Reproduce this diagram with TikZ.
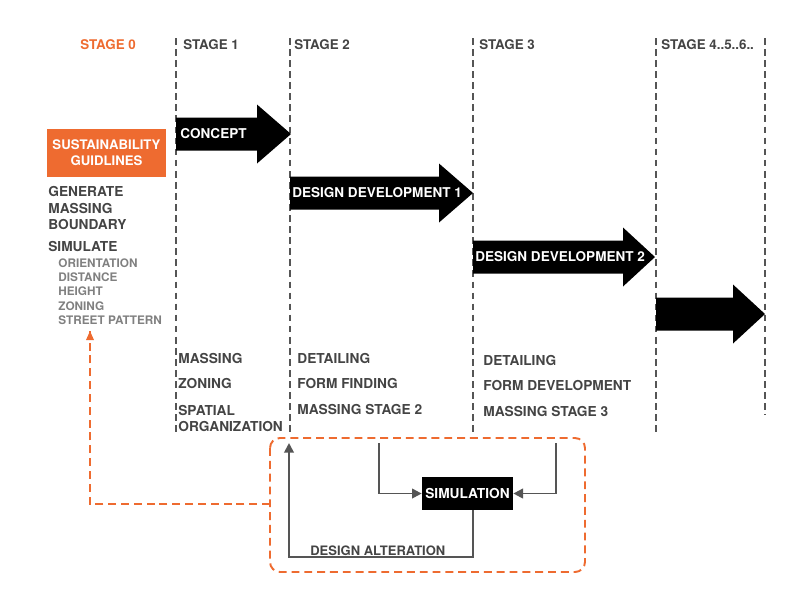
\documentclass[tikz,border=0pt]{standalone}
\usepackage{fontspec}
\setmainfont{TeX Gyre Heros}
\definecolor{stgrey}{HTML}{444444}
\definecolor{stlight}{HTML}{808080}
\definecolor{storange}{HTML}{EE6B30}
\definecolor{stline}{HTML}{555555}
\usetikzlibrary{arrows.meta,positioning}

\begin{document}
\begin{tikzpicture}[x=0.02cm,y=-0.02cm,
  stagelabel/.style={anchor=west,font=\bfseries\fontsize{7.6}{9}\selectfont,text=stgrey,inner sep=0pt},
  listitem/.style={anchor=west,font=\bfseries\fontsize{7.8}{9}\selectfont,text=stgrey,inner sep=0pt},
  subitem/.style={anchor=west,font=\bfseries\fontsize{6.7}{8}\selectfont,text=stlight,inner sep=0pt},
  arrowlabel/.style={anchor=west,font=\bfseries\fontsize{7.7}{9}\selectfont,text=white,inner sep=0pt},
  stageline/.style={stline,line width=1.25pt,dash pattern=on 3.8pt off 2.5pt},
  loopline/.style={stline,line width=1.1pt,-{Triangle[length=5.5pt,width=5.5pt]}},
  feedback/.style={storange,line width=1.1pt,dash pattern=on 4.5pt off 2.8pt}
]
  \useasboundingbox (0,0) rectangle (800,600);

  % stage columns
  \foreach \xl/\yb in {176/433,290/433,473/435,656/435,765/415}
    \draw[stageline] (\xl,38) -- (\xl,\yb);

  \node[stagelabel,text=storange] (stage0) at (80,45) {STAGE 0};
  \node[stagelabel] (stage1) at (183,45) {STAGE 1};
  \node[stagelabel] (stage2) at (294,45) {STAGE 2};
  \node[stagelabel] (stage3) at (479,45) {STAGE 3};
  \node[stagelabel] (stage4) at (661,45) {STAGE 4..5..6..};

  % block arrows
  \foreach \xs/\xh/\xt/\yc in {176/257/291/134,290/439/473/193,473/623/655/257,656/733/765/314}
    \fill[black] (\xs,{\yc-16.5}) -- (\xh,{\yc-16.5}) -- (\xh,{\yc-29.5}) -- (\xt,\yc)
      -- (\xh,{\yc+29.5}) -- (\xh,{\yc+16.5}) -- (\xs,{\yc+16.5}) -- cycle;

  \node[arrowlabel] (concept) at (180,134) {CONCEPT};
  \node[arrowlabel] (dd1) at (292,193) {DESIGN DEVELOPMENT 1};
  \node[arrowlabel] (dd2) at (475,257) {DESIGN DEVELOPMENT 2};

  % stage 0
  \node[fill=storange,text=white,minimum width=2.38cm,minimum height=0.96cm,align=center,
    font=\bfseries\fontsize{7.5}{9}\selectfont,inner sep=0pt] (guide) at (106.5,153) {SUSTAINABILITY\\GUIDLINES};
  \node[listitem] (generate) at (48,191) {GENERATE};
  \node[listitem] (massing0) at (48,208) {MASSING};
  \node[listitem] (boundary) at (48,224.5) {BOUNDARY};
  \node[listitem] (simulate) at (48,246.5) {SIMULATE};
  \node[subitem] (orient) at (58,263) {ORIENTATION};
  \node[subitem] (dist) at (58,277.5) {DISTANCE};
  \node[subitem] (height) at (58,291.5) {HEIGHT};
  \node[subitem] (zoning0) at (58,306) {ZONING};
  \node[subitem] (street) at (58,320) {STREET PATTERN};

  % stage lists
  \node[listitem] (massing1) at (178,358) {MASSING};
  \node[listitem] (zoning1) at (178,383.5) {ZONING};
  \node[listitem] (spatial) at (178,410) {SPATIAL};
  \node[listitem] (organ) at (178,426.5) {ORGANIZATION};
  \node[listitem] (detail2) at (297,358) {DETAILING};
  \node[listitem] (form2) at (297,383.5) {FORM FINDING};
  \node[listitem] (mass2) at (297,409.5) {MASSING STAGE 2};
  \node[listitem] (detail3) at (483,360) {DETAILING};
  \node[listitem] (form3) at (483,385.5) {FORM DEVELOPMENT};
  \node[listitem] (mass3) at (483,411) {MASSING STAGE 3};

  % simulation loop
  \draw[feedback,rounded corners=5.7pt] (270,438) rectangle (585,572);
  \node[fill=black,text=white,minimum width=1.82cm,minimum height=0.66cm,inner sep=0pt,
    font=\bfseries\fontsize{7.8}{9}\selectfont] (sim) at (467.5,493.5) {SIMULATION};
  \coordinate (fromdd1) at (379,443);
  \coordinate (fromdd2) at (556,443);
  \coordinate (altcorner) at (473,557);
  \coordinate (altend) at (289,443);
  \draw[loopline] (fromdd1) |- (sim.west);
  \draw[loopline] (fromdd2) |- (sim.east);
  \draw[loopline] (sim.south -| altcorner) -- (altcorner) -| (altend);
  \node[anchor=base west,inner sep=0pt,text=stgrey,font=\bfseries\fontsize{7.4}{9}\selectfont]
    (alter) at (310,555.5) {DESIGN ALTERATION};

  % feedback to stage 0
  \coordinate (fbstart) at (270,504);
  \coordinate (fbend) at (90,331);
  \draw[feedback] (fbstart) -| (fbend);
  \fill[storange] (fbend) -- ++(-4,9) -- ++(8,0) -- cycle;
\end{tikzpicture}
\end{document}
